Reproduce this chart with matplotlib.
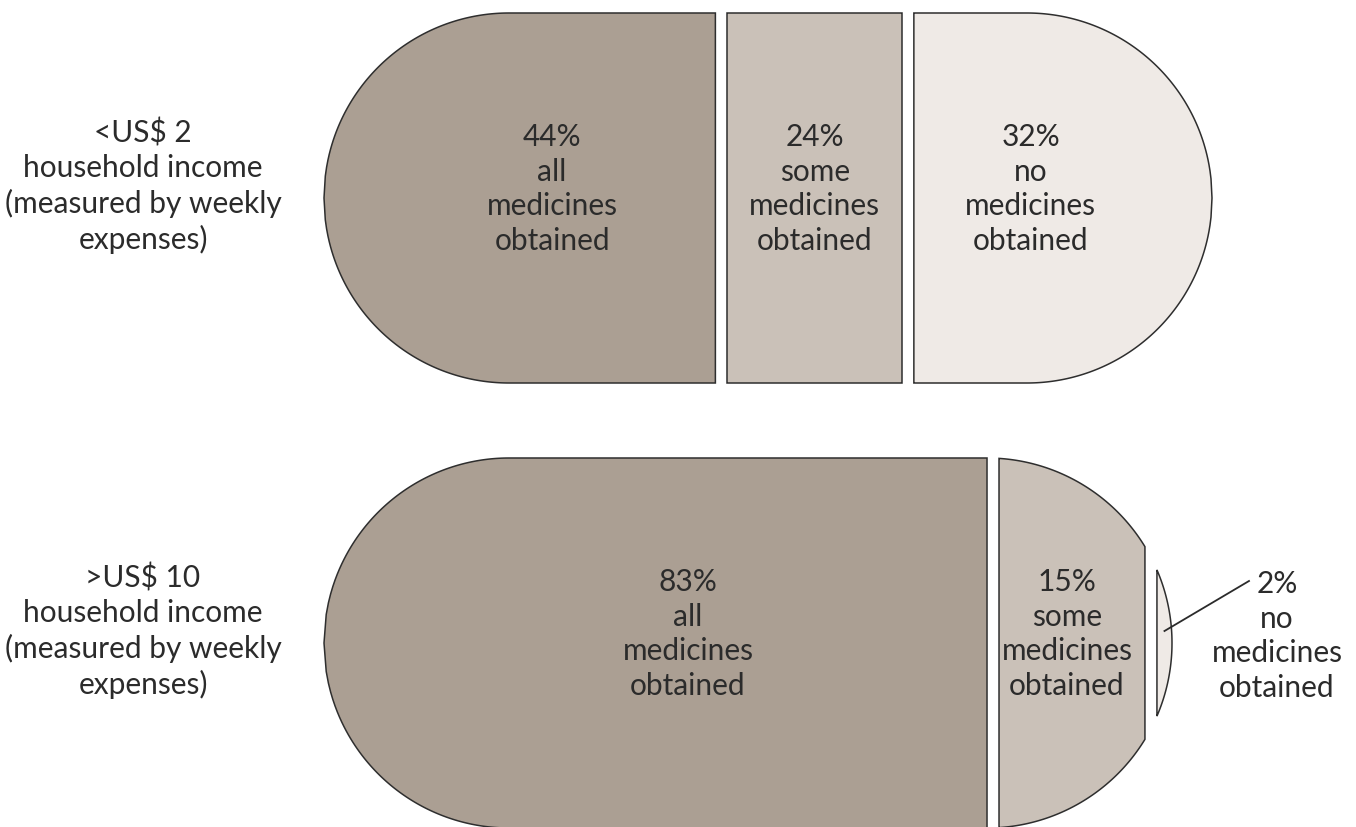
import numpy as np
import matplotlib
matplotlib.use("Agg")
import matplotlib.pyplot as plt
from matplotlib.patches import Polygon

# Data
group_labels = [
    "<US$ 2\nhousehold income\n(measured by weekly\nexpenses)",
    ">US$ 10\nhousehold income\n(measured by weekly\nexpenses)",
]
categories = ["all\nmedicines\nobtained", "some\nmedicines\nobtained", "no\nmedicines\nobtained"]
low_income = [44, 24, 32]
high_income = [83, 15, 2]

# Layout (pixels of a 1356x828 canvas)
colors = ["#ab9f93", "#cac1b8", "#efeae6"]
edge = "#2e2e2e"
text_color = "#2b2b2b"
row_y = [199, 644]
row_width = [888, 848]
x_start = 324
radius = 185
cap_weight = 0.7   # a round end counts for this share of its radius
gap = 12
font = ["Lato", "DejaVu Sans"]
fs = 21.5
ls = 1.28


def half_height(x, x0, x1, r):
    """Half height of a stadium (capsule) shape at position x."""
    h = np.full_like(x, float(r))
    left = x < x0 + r
    right = x > x1 - r
    h[left] = np.sqrt(np.clip(r**2 - (x0 + r - x[left]) ** 2, 0, None))
    h[right] = np.sqrt(np.clip(r**2 - (x[right] - (x1 - r)) ** 2, 0, None))
    return h


def share_to_x(frac, x0, x1, r):
    """Map a cumulative share (0..1) to an x position along the capsule."""
    flat = x1 - x0 - 2 * r
    cr = cap_weight * r
    u = frac * (flat + 2 * cr)
    return np.interp(u, [0, cr, cr + flat, 2 * cr + flat],
                     [x0, x0 + r, x1 - r, x1])


def draw_row(ax, values, yc, width, label):
    x0, x1 = x_start, x_start + width
    total = float(sum(values))
    cum = np.concatenate([[0], np.cumsum(values)]) / total
    cuts = share_to_x(cum, x0, x1, radius)
    for i, v in enumerate(values):
        a = cuts[i] + (gap / 2 if i > 0 else 0)
        b = cuts[i + 1] - (gap / 2 if i < len(values) - 1 else 0)
        xs = np.linspace(a, b, 300)
        h = half_height(xs, x0, x1, radius)
        pts = np.vstack([
            np.column_stack([xs, yc - h]),
            np.column_stack([xs[::-1], yc + h[::-1]]),
        ])
        ax.add_patch(Polygon(pts, closed=True, facecolor=colors[i],
                             edgecolor=edge, linewidth=1.1, zorder=2))

        txt = f"{v}%\n{categories[i]}"
        if b - a < 60:
            # too thin: label outside with a leader line
            lx = x1 + 105
            ax.plot([(a + b) / 2, x1 + 77], [yc - 12, yc - 62],
                    color=text_color, linewidth=1.3, zorder=3)
            ax.text(lx, yc - 8, txt, ha="center", va="center", fontsize=fs,
                    family=font, color=text_color, linespacing=ls, zorder=4)
        else:
            la = max(a, x0 + radius * 0.35)
            lb = min(b, x1 - radius * 0.35)
            lx = max((la + lb) / 2, a + 68)
            ax.text(lx, yc - 10, txt, ha="center", va="center",
                    fontsize=fs, family=font, color=text_color,
                    linespacing=ls, zorder=4)

    ax.text(143, yc - 13, label, ha="center", va="center", fontsize=fs,
            family=font, color=text_color, linespacing=ls)


fig = plt.figure(figsize=(13.56, 8.28), dpi=100)
ax = fig.add_axes([0, 0, 1, 1])
ax.set_xlim(0, 1356)
ax.set_ylim(828, 0)
ax.axis("off")

draw_row(ax, low_income, row_y[0], row_width[0], group_labels[0])
draw_row(ax, high_income, row_y[1], row_width[1], group_labels[1])

fig.savefig("out.png", dpi=100, facecolor="white")
